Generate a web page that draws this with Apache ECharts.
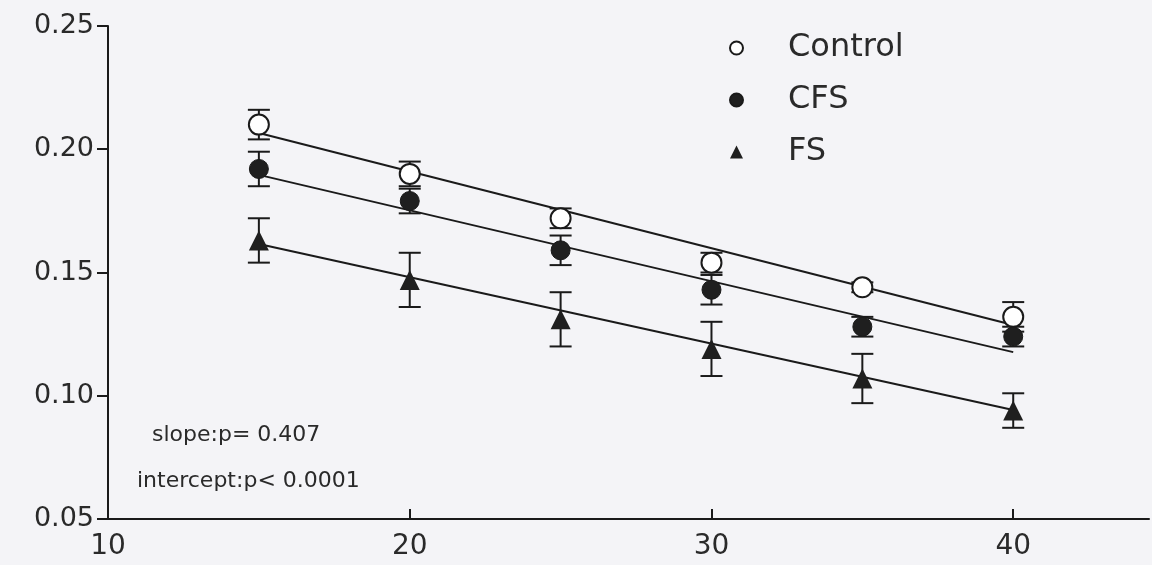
<!DOCTYPE html>
<html>
<head>
<meta charset="utf-8">
<script src="https://cdn.jsdelivr.net/npm/echarts@6/dist/echarts.min.js"></script>
<style>
  html, body { margin: 0; padding: 0; background: #f4f4f7; }
  #chart { width: 1152px; height: 565px; }
</style>
</head>
<body>
<div id="chart"></div>
<script>
// x positions of the measurements
const xValues = [15, 20, 25, 30, 35, 40];

// group means
const controlMean = [0.210, 0.190, 0.172, 0.154, 0.144, 0.132];
const cfsMean = [0.192, 0.179, 0.159, 0.143, 0.128, 0.124];
const fsMean = [0.163, 0.147, 0.131, 0.119, 0.107, 0.094];

// error (± half length of bars)
const controlErr = [0.006, 0.005, 0.004, 0.004, 0.002, 0.006];
const cfsErr = [0.007, 0.005, 0.006, 0.006, 0.004, 0.004];
const fsErr = [0.009, 0.011, 0.011, 0.011, 0.010, 0.007];

// regression lines, value at x = 15 and x = 40
const fitX = [15, 40];
const controlFit = [0.2066, 0.1287];
const cfsFit = [0.1896, 0.1177];
const fsFit = [0.1616, 0.0942];

const xTicks = [10, 20, 30, 40];
const groupNames = ["Control", "CFS", "FS"];

const chart = echarts.init(document.getElementById("chart"));

function pairs(xs, ys) {
  return xs.map((x, i) => [x, ys[i]]);
}

function errData(means, errs) {
  return xValues.map((x, i) => [x, means[i] - errs[i], means[i] + errs[i]]);
}

function errSeries(means, errs) {
  return {
    type: "custom",
    data: errData(means, errs),
    z: 1,
    silent: true,
    renderItem: function (params, api) {
      const lo = api.coord([api.value(0), api.value(1)]);
      const hi = api.coord([api.value(0), api.value(2)]);
      const half = 11;
      const style = { stroke: "#1a1a1a", lineWidth: 2 };
      return {
        type: "group",
        children: [
          { type: "line", shape: { x1: lo[0], y1: lo[1], x2: hi[0], y2: hi[1] }, style: style },
          { type: "line", shape: { x1: lo[0] - half, y1: lo[1], x2: lo[0] + half, y2: lo[1] }, style: style },
          { type: "line", shape: { x1: hi[0] - half, y1: hi[1], x2: hi[0] + half, y2: hi[1] }, style: style },
        ],
      };
    },
  };
}

function fitSeries(vals) {
  return {
    type: "line",
    data: pairs(fitX, vals),
    symbol: "none",
    silent: true,
    z: 2,
    lineStyle: { color: "#1a1a1a", width: 2 },
  };
}

const labelFont = "DejaVu Sans, Liberation Sans, sans-serif";

chart.setOption({
  backgroundColor: "#f4f4f7",
  animation: false,
  grid: { left: 108, right: 3, top: 26, bottom: 46 },
  legend: {
    data: groupNames,
    orient: "vertical",
    left: 724,
    top: 27,
    itemGap: 20,
    itemWidth: 13,
    itemHeight: 13,
    textStyle: { fontSize: 32, color: "#2a2a2a", fontFamily: labelFont, padding: [0, 0, 0, 40] },
  },
  xAxis: {
    type: "value",
    min: 10,
    max: 44.5,
    splitLine: { show: false },
    axisLine: { lineStyle: { color: "#1a1a1a", width: 2 } },
    axisTick: { inside: true, length: 10, customValues: xTicks, lineStyle: { color: "#1a1a1a", width: 2 } },
    axisLabel: {
      customValues: xTicks,
      fontSize: 28,
      color: "#2a2a2a",
      fontFamily: labelFont,
      margin: 14,
    },
  },
  yAxis: {
    type: "value",
    min: 0.05,
    max: 0.25,
    interval: 0.05,
    splitLine: { show: false },
    axisLine: { show: true, lineStyle: { color: "#1a1a1a", width: 2 } },
    axisTick: { length: 11, lineStyle: { color: "#1a1a1a", width: 2 } },
    axisLabel: {
      fontSize: 27,
      color: "#2a2a2a",
      fontFamily: labelFont,
      margin: 14,
      formatter: (v) => v.toFixed(2),
    },
  },
  graphic: [
    { type: "text", left: 152, top: 424, style: { text: "slope:p= 0.407", font: "22px " + labelFont, fill: "#2a2a2a" } },
    { type: "text", left: 137, top: 470, style: { text: "intercept:p< 0.0001", font: "22px " + labelFont, fill: "#2a2a2a" } },
  ],
  series: [
    errSeries(controlMean, controlErr),
    errSeries(cfsMean, cfsErr),
    errSeries(fsMean, fsErr),
    fitSeries(controlFit),
    fitSeries(cfsFit),
    fitSeries(fsFit),
    {
      name: "Control",
      type: "scatter",
      data: pairs(xValues, controlMean),
      symbol: "circle",
      symbolSize: 20,
      z: 3,
      itemStyle: { color: "#ffffff", borderColor: "#1a1a1a", borderWidth: 2, opacity: 1 },
    },
    {
      name: "CFS",
      type: "scatter",
      data: pairs(xValues, cfsMean),
      symbol: "circle",
      symbolSize: 19,
      z: 3,
      itemStyle: { color: "#1f1f1f", borderColor: "#1a1a1a", borderWidth: 1, opacity: 1 },
    },
    {
      name: "FS",
      type: "scatter",
      data: pairs(xValues, fsMean),
      symbol: "triangle",
      symbolSize: 20,
      z: 3,
      itemStyle: { color: "#1f1f1f", opacity: 1 },
    },
  ],
});
</script>
</body>
</html>
